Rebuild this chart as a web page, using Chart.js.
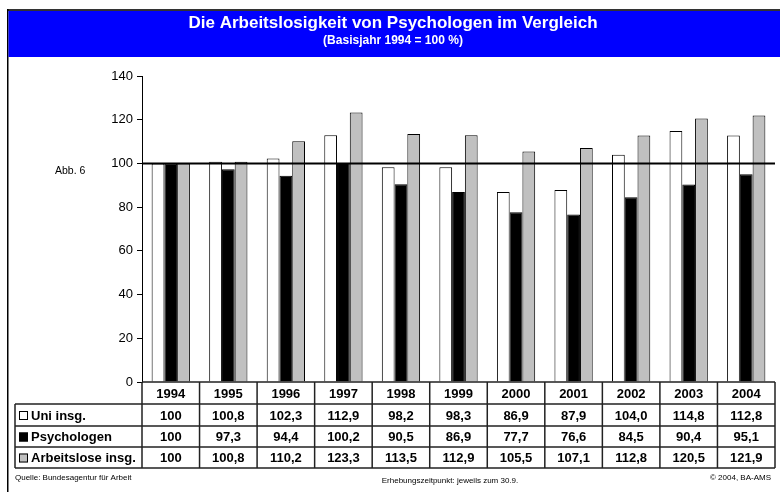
<!DOCTYPE html>
<html>
<head>
<meta charset="utf-8">
<script src="https://cdn.jsdelivr.net/npm/chart.js@4/dist/chart.umd.min.js"></script>
<style>
  body { margin: 0; background: #fff; }
  canvas { display: block; }
</style>
</head>
<body>
<canvas id="arbeitslosChart" width="780" height="492"></canvas>
<script>
// Daten (Basisjahr 1994 = 100 %)
const years = ['1994', '1995', '1996', '1997', '1998', '1999', '2000', '2001', '2002', '2003', '2004'];
const uniInsg = [100, 100.8, 102.3, 112.9, 98.2, 98.3, 86.9, 87.9, 104.0, 114.8, 112.8];
const psychologen = [100, 97.3, 94.4, 100.2, 90.5, 86.9, 77.7, 76.6, 84.5, 90.4, 95.1];
const arbeitsloseInsg = [100, 100.8, 110.2, 123.3, 113.5, 112.9, 105.5, 107.1, 112.8, 120.5, 121.9];
const yTicks = [0, 20, 40, 60, 80, 100, 120, 140];
const baseLine = 100;

const FONT = '"Liberation Sans", Arial, sans-serif';

const seriesInfo = [
    { label: 'Uni insg.', data: uniInsg, color: '#ffffff' },
    { label: 'Psychologen', data: psychologen, color: '#000000' },
    { label: 'Arbeitslose insg.', data: arbeitsloseInsg, color: '#c0c0c0' }
];

function fmt(v, i) {
    return i === 0 ? String(v) : v.toFixed(1).replace('.', ',');
}

// Rahmen und Titelkasten
const framePlugin = {
    id: 'frame',
    beforeDraw(chart) {
        const c = chart.ctx;
        c.save();
        c.fillStyle = '#fff';
        c.fillRect(0, 0, chart.width, chart.height);
        c.fillStyle = '#333';
        c.fillRect(7, 9, chart.width - 7, 2);
        c.fillStyle = '#000';
        c.fillRect(7, 9, 1.5, chart.height - 9);
        c.fillStyle = '#0000ff';
        c.fillRect(8.5, 11, chart.width - 8.5, 46);
        c.fillStyle = '#fff';
        c.textAlign = 'center';
        c.textBaseline = 'middle';
        c.font = 'bold 17px ' + FONT;
        c.fillText('Die Arbeitslosigkeit von Psychologen im Vergleich', 393, 23);
        c.font = 'bold 12px ' + FONT;
        c.fillText('(Basisjahr 1994 = 100 %)', 393, 41);
        c.fillStyle = '#000';
        c.font = '10.5px ' + FONT;
        c.textAlign = 'left';
        c.fillText('Abb. 6', 55, 171);
        c.restore();
    },
    afterDatasetsDraw(chart) {
        const c = chart.ctx;
        const y = chart.scales.y.getPixelForValue(baseLine);
        c.save();
        c.strokeStyle = '#000';
        c.lineWidth = 2;
        c.beginPath();
        c.moveTo(chart.chartArea.left, y);
        c.lineTo(chart.chartArea.right, y);
        c.stroke();
        c.restore();
    }
};

// Datentabelle unter dem Diagramm
const tablePlugin = {
    id: 'dataTable',
    afterDraw(chart) {
        const c = chart.ctx;
        const area = chart.chartArea;
        const xs = chart.scales.x;
        const colW = (area.right - area.left) / years.length;
        const rows = [area.bottom, 404, 426, 447, 468];
        const labelLeft = 15;
        c.save();
        c.strokeStyle = '#222';
        c.lineWidth = 1.5;
        c.beginPath();
        c.moveTo(area.left, rows[0]); c.lineTo(area.right, rows[0]);
        for (let r = 1; r < rows.length; r++) {
            c.moveTo(labelLeft, rows[r]); c.lineTo(area.right, rows[r]);
        }
        c.moveTo(labelLeft, rows[1]); c.lineTo(labelLeft, rows[4]);
        for (let i = 0; i <= years.length; i++) {
            const x = area.left + i * colW;
            c.moveTo(x, rows[0]); c.lineTo(x, rows[4]);
        }
        c.stroke();

        c.fillStyle = '#000';
        c.textAlign = 'center';
        c.textBaseline = 'middle';
        c.font = 'bold 13px ' + FONT;
        years.forEach((yr, i) => {
            const x = xs.getPixelForValue(i);
            c.fillText(yr, x, (rows[0] + rows[1]) / 2 + 1);
        });
        seriesInfo.forEach((s, r) => {
            const yMid = (rows[r + 1] + rows[r + 2]) / 2 + 1;
            s.data.forEach((v, i) => {
                c.fillText(fmt(v, i), xs.getPixelForValue(i), yMid);
            });
            // Legendenkästchen
            c.fillStyle = s.color;
            c.fillRect(19, yMid - 5, 9, 9);
            c.strokeStyle = '#000';
            c.lineWidth = 1;
            c.strokeRect(19.5, yMid - 4.5, 8, 8);
            c.fillStyle = '#000';
            c.textAlign = 'left';
            c.fillText(s.label, 31, yMid);
            c.textAlign = 'center';
        });

        c.font = '8px ' + FONT;
        c.textAlign = 'left';
        c.fillText('Quelle: Bundesagentur für Arbeit', 15, 478);
        c.textAlign = 'center';
        c.fillText('Erhebungszeitpunkt: jeweils zum 30.9.', 450, 481);
        c.textAlign = 'right';
        c.fillText('\u00A9 2004, BA-AMS', 771, 478);
        c.restore();
    }
};

const ctx = document.getElementById('arbeitslosChart').getContext('2d');

const chart = new Chart(ctx, {
    type: 'bar',
    data: {
        labels: years,
        datasets: seriesInfo.map(s => ({
            label: s.label,
            data: s.data,
            backgroundColor: s.color,
            borderColor: '#000',
            borderWidth: 1,
            barPercentage: 1.0,
            categoryPercentage: 0.665
        }))
    },
    options: {
        responsive: false,
        animation: false,
        devicePixelRatio: 1,
        layout: { padding: { top: 76, right: 5, bottom: 110, left: 0 } },
        plugins: {
            legend: { display: false },
            tooltip: { enabled: false },
            title: { display: false }
        },
        scales: {
            x: { display: false },
            y: {
                min: 0,
                max: 140,
                afterBuildTicks(scale) {
                    scale.ticks = yTicks.map(v => ({ value: v }));
                },
                afterFit(scale) { scale.width = 142; },
                ticks: { color: '#000', font: { family: FONT, size: 13 }, padding: 4 },
                grid: { drawOnChartArea: false, drawTicks: true, tickLength: 5, color: '#000' },
                border: { color: '#000', width: 1 }
            }
        }
    },
    plugins: [framePlugin, tablePlugin]
});
</script>
</body>
</html>
